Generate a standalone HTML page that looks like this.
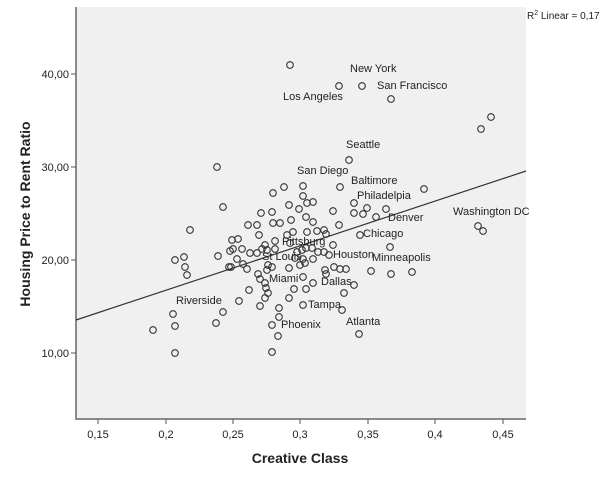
<!DOCTYPE html>
<html><head><meta charset="utf-8"><style>body{margin:0;background:#fff}svg{display:block}text{font-family:"Liberation Sans",Arial,sans-serif;fill:#222}</style></head>
<body>
<svg width="606" height="485" viewBox="0 0 606 485">
<rect x="76" y="7" width="450" height="412" fill="#f0f0f0"/>
<line x1="76" y1="7" x2="76" y2="420" stroke="#8a8a8a" stroke-width="2"/>
<line x1="75" y1="419" x2="526" y2="419" stroke="#8a8a8a" stroke-width="2"/>
<g stroke="#555" stroke-width="1">
<line x1="71" y1="74" x2="76" y2="74"/><line x1="71" y1="167" x2="76" y2="167"/><line x1="71" y1="260" x2="76" y2="260"/><line x1="71" y1="353" x2="76" y2="353"/>
<line x1="98" y1="419" x2="98" y2="424"/><line x1="166" y1="419" x2="166" y2="424"/><line x1="233" y1="419" x2="233" y2="424"/><line x1="300" y1="419" x2="300" y2="424"/><line x1="368" y1="419" x2="368" y2="424"/><line x1="435" y1="419" x2="435" y2="424"/><line x1="503" y1="419" x2="503" y2="424"/>
</g>
<g font-size="11" text-anchor="end">
<text x="69" y="78">40,00</text><text x="69" y="171">30,00</text><text x="69" y="264">20,00</text><text x="69" y="357">10,00</text>
</g>
<g font-size="11" text-anchor="middle">
<text x="98" y="438">0,15</text><text x="166" y="438">0,2</text><text x="233" y="438">0,25</text><text x="300" y="438">0,3</text><text x="368" y="438">0,35</text><text x="435" y="438">0,4</text><text x="503" y="438">0,45</text>
</g>
<text x="300" y="463" font-size="14" font-weight="bold" text-anchor="middle">Creative Class</text>
<text transform="translate(30,214) rotate(-90)" font-size="14" font-weight="bold" text-anchor="middle">Housing Price to Rent Ratio</text>
<text x="527" y="19" font-size="10">R<tspan dy="-4" font-size="7">2</tspan><tspan dy="4"> Linear = 0,17</tspan></text>
<line x1="76" y1="320" x2="526" y2="171" stroke="#333" stroke-width="1.2"/>
<g fill="none" stroke="#333" stroke-width="1.1">
<circle cx="290" cy="65" r="3.3"/><circle cx="339" cy="86" r="3.3"/><circle cx="362" cy="86" r="3.3"/><circle cx="391" cy="99" r="3.3"/><circle cx="491" cy="117" r="3.3"/><circle cx="481" cy="129" r="3.3"/><circle cx="349" cy="160" r="3.3"/><circle cx="217" cy="167" r="3.3"/><circle cx="340" cy="187" r="3.3"/><circle cx="424" cy="189" r="3.3"/><circle cx="223" cy="207" r="3.3"/><circle cx="190" cy="230" r="3.3"/><circle cx="175" cy="260" r="3.3"/><circle cx="184" cy="257" r="3.3"/><circle cx="185" cy="267" r="3.3"/><circle cx="187" cy="275" r="3.3"/><circle cx="218" cy="256" r="3.3"/><circle cx="173" cy="314" r="3.3"/><circle cx="175" cy="326" r="3.3"/><circle cx="153" cy="330" r="3.3"/><circle cx="175" cy="353" r="3.3"/><circle cx="216" cy="323" r="3.3"/><circle cx="223" cy="312" r="3.3"/><circle cx="239" cy="301" r="3.3"/><circle cx="249" cy="290" r="3.3"/>
<circle cx="284" cy="187" r="3.3"/><circle cx="303" cy="186" r="3.3"/><circle cx="273" cy="193" r="3.3"/><circle cx="303" cy="196" r="3.3"/><circle cx="307" cy="203" r="3.3"/><circle cx="313" cy="202" r="3.3"/><circle cx="289" cy="205" r="3.3"/><circle cx="299" cy="209" r="3.3"/><circle cx="261" cy="213" r="3.3"/><circle cx="272" cy="212" r="3.3"/><circle cx="333" cy="211" r="3.3"/><circle cx="354" cy="203" r="3.3"/><circle cx="354" cy="213" r="3.3"/><circle cx="363" cy="214" r="3.3"/><circle cx="367" cy="208" r="3.3"/><circle cx="386" cy="209" r="3.3"/><circle cx="376" cy="217" r="3.3"/><circle cx="306" cy="217" r="3.3"/><circle cx="291" cy="220" r="3.3"/><circle cx="313" cy="222" r="3.3"/><circle cx="248" cy="225" r="3.3"/><circle cx="257" cy="225" r="3.3"/><circle cx="273" cy="223" r="3.3"/><circle cx="280" cy="223" r="3.3"/><circle cx="339" cy="225" r="3.3"/><circle cx="259" cy="235" r="3.3"/><circle cx="275" cy="241" r="3.3"/><circle cx="287" cy="235" r="3.3"/><circle cx="293" cy="232" r="3.3"/><circle cx="307" cy="232" r="3.3"/><circle cx="317" cy="231" r="3.3"/><circle cx="324" cy="230" r="3.3"/><circle cx="326" cy="234" r="3.3"/><circle cx="360" cy="235" r="3.3"/><circle cx="232" cy="240" r="3.3"/><circle cx="238" cy="239" r="3.3"/><circle cx="242" cy="249" r="3.3"/><circle cx="230" cy="251" r="3.3"/><circle cx="233" cy="249" r="3.3"/><circle cx="250" cy="253" r="3.3"/><circle cx="257" cy="253" r="3.3"/><circle cx="262" cy="249" r="3.3"/><circle cx="265" cy="245" r="3.3"/><circle cx="267" cy="250" r="3.3"/><circle cx="275" cy="249" r="3.3"/><circle cx="290" cy="243" r="3.3"/><circle cx="297" cy="252" r="3.3"/><circle cx="302" cy="250" r="3.3"/><circle cx="306" cy="248" r="3.3"/><circle cx="312" cy="248" r="3.3"/><circle cx="318" cy="252" r="3.3"/><circle cx="324" cy="252" r="3.3"/><circle cx="333" cy="245" r="3.3"/><circle cx="329" cy="255" r="3.3"/><circle cx="390" cy="247" r="3.3"/><circle cx="295" cy="258" r="3.3"/><circle cx="303" cy="259" r="3.3"/><circle cx="313" cy="259" r="3.3"/><circle cx="300" cy="265" r="3.3"/><circle cx="305" cy="263" r="3.3"/><circle cx="237" cy="259" r="3.3"/><circle cx="243" cy="264" r="3.3"/><circle cx="247" cy="269" r="3.3"/><circle cx="229" cy="267" r="3.3"/><circle cx="231" cy="267" r="3.3"/><circle cx="268" cy="265" r="3.3"/><circle cx="272" cy="267" r="3.3"/><circle cx="267" cy="270" r="3.3"/><circle cx="289" cy="268" r="3.3"/><circle cx="325" cy="270" r="3.3"/><circle cx="326" cy="274" r="3.3"/><circle cx="334" cy="267" r="3.3"/><circle cx="340" cy="269" r="3.3"/><circle cx="346" cy="269" r="3.3"/><circle cx="371" cy="271" r="3.3"/><circle cx="391" cy="274" r="3.3"/><circle cx="412" cy="272" r="3.3"/><circle cx="478" cy="226" r="3.3"/><circle cx="483" cy="231" r="3.3"/><circle cx="258" cy="274" r="3.3"/><circle cx="260" cy="279" r="3.3"/><circle cx="265" cy="283" r="3.3"/><circle cx="266" cy="288" r="3.3"/><circle cx="268" cy="293" r="3.3"/><circle cx="265" cy="298" r="3.3"/><circle cx="303" cy="277" r="3.3"/><circle cx="313" cy="283" r="3.3"/><circle cx="306" cy="289" r="3.3"/><circle cx="294" cy="289" r="3.3"/><circle cx="354" cy="285" r="3.3"/><circle cx="344" cy="293" r="3.3"/><circle cx="260" cy="306" r="3.3"/><circle cx="279" cy="308" r="3.3"/><circle cx="289" cy="298" r="3.3"/><circle cx="279" cy="317" r="3.3"/><circle cx="303" cy="305" r="3.3"/><circle cx="342" cy="310" r="3.3"/><circle cx="272" cy="325" r="3.3"/><circle cx="278" cy="336" r="3.3"/><circle cx="359" cy="334" r="3.3"/><circle cx="272" cy="352" r="3.3"/>
</g>
<g font-size="11" dominant-baseline="central">
<text x="350" y="69">New York</text><text x="377" y="86">San Francisco</text><text x="283" y="97">Los Angeles</text><text x="346" y="145">Seattle</text><text x="297" y="171">San Diego</text><text x="351" y="181">Baltimore</text><text x="357" y="196">Philadelpia</text><text x="388" y="218">Denver</text><text x="453" y="212">Washington DC</text><text x="363" y="234">Chicago</text><text x="333" y="255">Houston</text><text x="372" y="258">Minneapolis</text><text x="282" y="242">Pittsburg</text><text x="262" y="257">St Louis</text><text x="269" y="279">Miami</text><text x="321" y="282">Dallas</text><text x="176" y="301">Riverside</text><text x="308" y="305">Tampa</text><text x="346" y="322">Atlanta</text><text x="281" y="325">Phoenix</text>
</g>
</svg>
</body></html>
